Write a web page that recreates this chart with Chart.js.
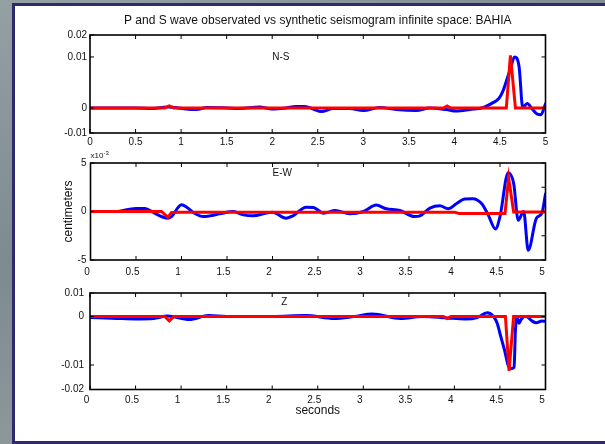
<!DOCTYPE html>
<html>
<head>
<meta charset="utf-8">
<script src="https://cdn.jsdelivr.net/npm/chart.js@4.4.0/dist/chart.umd.min.js"></script>
<style>
    html, body { margin: 0; padding: 0; }
    body {
        width: 605px; height: 444px; overflow: hidden; position: relative;
        background: linear-gradient(160deg, #95a0a3 0%, #7d8a90 40%, #8f999b 70%, #6f7c84 100%);
    }
    #painel {
        position: absolute; left: 12px; top: 3px; width: 593px; height: 435px;
        background: #fff; border: 3px solid #2d2b6b; border-right: none;
    }
    canvas { position: absolute; left: 0; top: 0; }
</style>
</head>
<body>
<div id="painel"></div>
<canvas id="graficoNS" width="605" height="444"></canvas>
<canvas id="graficoEW" width="605" height="444"></canvas>
<canvas id="graficoZ" width="605" height="444"></canvas>
<script>
// eixo do tempo (segundos)
const ticksTempo = [0, 0.5, 1, 1.5, 2, 2.5, 3, 3.5, 4, 4.5, 5];

// N-S (cm)
const tempoNSObs = [0.0, 0.3, 0.5, 0.69, 0.85, 1.05, 1.17, 1.28, 1.5, 1.64, 1.86, 2.0, 2.15, 2.26, 2.36,
    2.45, 2.54, 2.67, 2.85, 3.0, 3.18, 3.36, 3.58, 3.73, 3.91, 4.02, 4.17, 4.32, 4.41, 4.49,
    4.53, 4.58, 4.62, 4.66, 4.71, 4.75, 4.80, 4.85, 4.91, 4.95, 5.0];
const nsObservado = [0, 0, 0, -0.0001, 0.0002, -0.0002, -0.0003, 0.0001, 0, -0.0001, 0.0002, -0.0002, 0, 0.0003, 0.0003,
    -0.0002, -0.0007, -0.0001, -0.0001, -0.0005, 0.0001, -0.0003, -0.0005, 0, -0.0003, -0.0006, -0.0003, 0.0001, 0.0009, 0.0019,
    0.0032, 0.0058, 0.0080, 0.0100, 0.0081, 0.0001, 0.0009, -0.0001, -0.0012, -0.0013, 0.0008];
const tempoNSSin = [0, 0.82, 0.87, 0.92, 3.88, 3.92, 3.96, 4.57, 4.615, 4.67, 5.0];
const nsSintetico = [0, 0, 0.0004, 0, 0, 0.0004, 0, 0, 0.0103, 0, 0];
const limitesNS = [-0.0049, 0.0143];
const ticksNS = [-0.0049, 0, 0.01, 0.0143];
const rotulosNS = ['-0.01', '0', '0.01', '0.02'];

// E-W (x10^-3 cm)
const tempoEWObs = [0.0, 0.29, 0.4, 0.5, 0.6, 0.69, 0.8, 0.85, 0.89, 1.0, 1.06, 1.13, 1.24, 1.31, 1.42,
    1.57, 1.68, 1.79, 1.93, 2.0, 2.15, 2.23, 2.37, 2.45, 2.56, 2.69, 2.85, 3.0, 3.14, 3.25,
    3.4, 3.56, 3.62, 3.73, 3.84, 3.93, 4.02, 4.11, 4.2, 4.3, 4.37, 4.45, 4.5, 4.59, 4.65,
    4.7, 4.76, 4.81, 4.9, 4.96, 5.0];
const ewObservado = [0, 0, 0.17, 0.31, 0.31, -0.1, -0.59, -0.69, -0.52, 0.69, 0.42, -0.1, -0.52, -0.45, -0.24,
    0, -0.35, -0.45, -0.17, -0.07, -0.69, -0.42, 0.45, 0.42, -0.17, 0.1, -0.24, 0, 0.66, 0.28,
    0.1, -0.52, -0.45, 0.35, 0.59, 0.28, 0.8, 1.28, 1.32, 0.8, -0.35, -1.8, -0.52, 4.0, 2.9,
    -0.9, 0, -4.0, -0.69, -0.17, 1.8];
const tempoEWSin = [0, 0.78, 0.85, 0.89, 1.0, 4.0, 4.05, 4.555, 4.595, 4.65, 5.0];
const ewSintetico = [0, 0, -0.6, -0.1, -0.07, -0.07, -0.2, -0.2, 3.45, -0.05, -0.05];
const limitesEW = [-5, 5];
const ticksEW = [-5, -2.5, 0, 2.5, 5];
const rotulosEW = ['-5', '', '0', '', '5'];

// Z (cm)
const tempoZObs = [0.0, 0.3, 0.5, 0.7, 0.85, 1.09, 1.3, 1.5, 2.0, 2.37, 2.68, 2.9, 3.1, 3.41, 3.65,
    3.92, 4.12, 4.25, 4.36, 4.43, 4.47, 4.5, 4.55, 4.6, 4.63, 4.655, 4.67, 4.69, 4.71, 4.73,
    4.77, 4.8, 4.85, 4.9, 4.96, 5.0];
const zObservado = [-0.0002, -0.0004, -0.0005, -0.0004, 0.0001, -0.0006, 0.0002, 0, 0, 0.0002, -0.0004, 0, 0.0005, -0.0004, 0,
    -0.0003, -0.0005, -0.0002, 0.0008, 0, -0.0014, -0.0035, -0.0069, -0.0105, -0.0107, -0.0105, -0.0028, -0.0002, -0.0014, -0.0007,
    0, -0.0001, -0.0009, -0.0013, -0.0009, -0.001];
const tempoZSin = [0, 0.82, 0.87, 0.92, 3.88, 3.92, 3.96, 4.56, 4.6, 4.65, 5.0];
const zSintetico = [0, 0, -0.0009, 0, 0, -0.0004, 0, 0, -0.0112, 0, 0];
const limitesZ = [-0.01505, 0.00485];
const ticksZ = [-0.01505, -0.01, 0, 0.00485];
const rotulosZ = ['-0.02', '-0.01', '0', '0.01'];

const fonte = '"Liberation Sans", Arial, Helvetica, sans-serif';
const corTexto = '#111';

Chart.defaults.font.family = fonte;
Chart.defaults.color = corTexto;

const pontos = (tempos, valores) => tempos.map((t, i) => ({ x: t, y: valores[i] }));

// caixa do eixo + ticks para dentro (estilo MATLAB)
const molduraPlugin = {
    id: 'moldura',
    afterDatasetsDraw(chart) {
        const { ctx, chartArea: a, scales: { x, y } } = chart;
        ctx.save();
        ctx.strokeStyle = '#000';
        ctx.lineWidth = 1;
        ctx.beginPath();
        x.ticks.forEach(t => {
            const px = x.getPixelForValue(t.value);
            ctx.moveTo(px, a.top); ctx.lineTo(px, a.top + 4);
            ctx.moveTo(px, a.bottom); ctx.lineTo(px, a.bottom - 4);
        });
        y.ticks.forEach(t => {
            const py = y.getPixelForValue(t.value);
            if (t.label !== '') { ctx.moveTo(a.left, py); ctx.lineTo(a.left + 4, py); }
            ctx.moveTo(a.right, py); ctx.lineTo(a.right - 4, py);
        });
        ctx.stroke();
        ctx.lineWidth = 1.6;
        ctx.strokeRect(a.left, a.top, a.right - a.left, a.bottom - a.top);
        ctx.restore();
    }
};

// texto dentro do eixo (N-S, E-W, Z) e o multiplicador x10^-3
const anotacaoPlugin = {
    id: 'anotacao',
    afterDatasetsDraw(chart, args, opcoes) {
        if (!opcoes || !opcoes.texto) return;
        const { ctx, chartArea: a, scales: { x, y } } = chart;
        ctx.save();
        ctx.fillStyle = corTexto;
        ctx.textBaseline = 'middle';
        ctx.textAlign = 'left';
        ctx.font = `10px ${fonte}`;
        ctx.fillText(opcoes.texto, x.getPixelForValue(opcoes.x), y.getPixelForValue(opcoes.y));
        if (opcoes.expoente) {
            ctx.font = `8px ${fonte}`;
            ctx.fillText('x10', a.left, a.top - 7);
            const largura = ctx.measureText('x10').width;
            ctx.font = `6px ${fonte}`;
            ctx.fillText(opcoes.expoente, a.left + largura, a.top - 10);
        }
        ctx.restore();
    }
};

function criarSubplot(idCanvas, cfg) {
    const ctx = document.getElementById(idCanvas).getContext('2d');
    return new Chart(ctx, {
        type: 'line',
        data: {
            datasets: [{
                label: 'observado',
                data: pontos(cfg.tempoObs, cfg.obs),
                borderColor: '#0000ff',
                borderWidth: 3,
                pointRadius: 0,
                cubicInterpolationMode: 'monotone',
                borderJoinStyle: 'round',
                borderCapStyle: 'round',
                order: 2
            }, {
                label: 'sintetico',
                data: pontos(cfg.tempoSin, cfg.sin),
                borderColor: '#ff0000',
                borderWidth: 3,
                pointRadius: 0,
                tension: 0,
                order: 1
            }]
        },
        options: {
            responsive: false,
            animation: false,
            events: [],
            layout: { padding: cfg.padding },
            plugins: {
                legend: { display: false },
                tooltip: { enabled: false },
                title: cfg.titulo || { display: false },
                anotacao: cfg.anotacao
            },
            scales: {
                x: {
                    type: 'linear',
                    min: 0,
                    max: 5,
                    afterBuildTicks: eixo => { eixo.ticks = ticksTempo.map(v => ({ value: v })); },
                    afterFit: eixo => { eixo.height = cfg.alturaX; },
                    grid: { display: false, drawTicks: false },
                    border: { display: false },
                    ticks: {
                        color: corTexto,
                        font: { size: 10 },
                        padding: cfg.padX,
                        labelOffset: cfg.deslocX,
                        maxRotation: 0,
                        autoSkip: false,
                        callback: v => String(v)
                    },
                    title: cfg.tituloX || { display: false }
                },
                y: {
                    type: 'linear',
                    min: cfg.limites[0],
                    max: cfg.limites[1],
                    afterBuildTicks: eixo => { eixo.ticks = cfg.ticksY.map(v => ({ value: v })); },
                    afterFit: eixo => { eixo.width = cfg.larguraY; },
                    grid: { display: false, drawTicks: false },
                    border: { display: false },
                    ticks: {
                        color: corTexto,
                        font: { size: 10 },
                        padding: cfg.padY,
                        autoSkip: false,
                        callback: (v, i) => cfg.rotulosY[i]
                    },
                    title: cfg.tituloY || { display: false }
                }
            }
        },
        plugins: [molduraPlugin, anotacaoPlugin]
    });
}

criarSubplot('graficoNS', {
    tempoObs: tempoNSObs, obs: nsObservado,
    tempoSin: tempoNSSin, sin: nsSintetico,
    limites: limitesNS, ticksY: ticksNS, rotulosY: rotulosNS,
    padding: { left: 50, right: 59.5, top: 0, bottom: 291 },
    larguraY: 40, alturaX: 20, padX: 3.3, deslocX: 0, padY: 3,
    titulo: {
        display: true,
        text: 'P and S wave observated vs synthetic seismogram infinite space: BAHIA',
        fullSize: false,
        color: corTexto,
        font: { size: 12, weight: 'normal' },
        padding: { top: 13, bottom: 7.6 }
    },
    anotacao: { texto: 'N-S', x: 2.0, y: 0.01 }
});

criarSubplot('graficoEW', {
    tempoObs: tempoEWObs, obs: ewObservado,
    tempoSin: tempoEWSin, sin: ewSintetico,
    limites: limitesEW, ticksY: ticksEW, rotulosY: rotulosEW,
    padding: { left: 61.8, right: 59.5, top: 163, bottom: 159 },
    larguraY: 28.7, alturaX: 25, padX: 6.3, deslocX: -3.5, padY: 4,
    tituloY: {
        display: true,
        text: 'centimeters',
        color: corTexto,
        font: { size: 12 },
        padding: { top: 0, bottom: 0 }
    },
    anotacao: { texto: 'E-W', x: 2.0, y: 3.9, expoente: '-3' }
});

criarSubplot('graficoZ', {
    tempoObs: tempoZObs, obs: zObservado,
    tempoSin: tempoZSin, sin: zSintetico,
    limites: limitesZ, ticksY: ticksZ, rotulosY: rotulosZ,
    padding: { left: 50, right: 59.5, top: 293, bottom: 25.8 },
    larguraY: 40, alturaX: 28.7, padX: 4.4, deslocX: -3.5, padY: 6,
    tituloX: {
        display: true,
        text: 'seconds',
        color: corTexto,
        font: { size: 12 },
        padding: { top: 0, bottom: 0 }
    },
    anotacao: { texto: 'Z', x: 2.1, y: 0.003 }
});
</script>
</body>
</html>
